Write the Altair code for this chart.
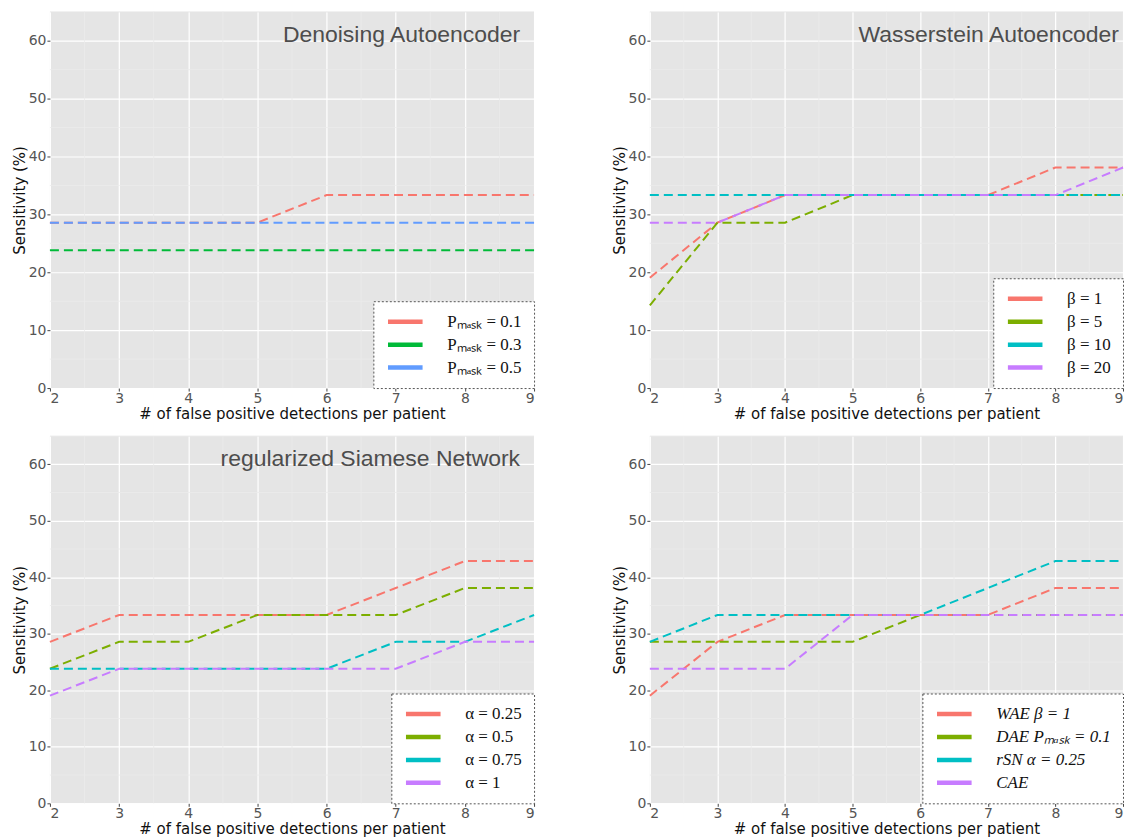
import altair as alt
import pandas as pd

# ---------------- data ----------------
X_VALUES = [2, 3, 4, 5, 6, 7, 8, 9]
Y_TICKS = [0, 10, 20, 30, 40, 50, 60]
MINOR_X = [2.5, 3.5, 4.5, 5.5, 6.5, 7.5, 8.5]
MINOR_Y = [5, 15, 25, 35, 45, 55, 65]

DAE_TITLE = "Denoising Autoencoder"
DAE_LABELS = ["Pₘₐₛₖ = 0.1", "Pₘₐₛₖ = 0.3", "Pₘₐₛₖ = 0.5"]
DAE_P01 = [28.57, 28.57, 28.57, 28.57, 33.33, 33.33, 33.33, 33.33]
DAE_P03 = [23.81, 23.81, 23.81, 23.81, 23.81, 23.81, 23.81, 23.81]
DAE_P05 = [28.57, 28.57, 28.57, 28.57, 28.57, 28.57, 28.57, 28.57]

WAE_TITLE = "Wasserstein Autoencoder"
WAE_LABELS = ["β = 1", "β = 5", "β = 10", "β = 20"]
WAE_B1 = [19.05, 28.57, 33.33, 33.33, 33.33, 33.33, 38.10, 38.10]
WAE_B5 = [14.29, 28.57, 28.57, 33.33, 33.33, 33.33, 33.33, 33.33]
WAE_B10 = [33.33, 33.33, 33.33, 33.33, 33.33, 33.33, 33.33, 33.33]
WAE_B20 = [28.57, 28.57, 33.33, 33.33, 33.33, 33.33, 33.33, 38.10]

RSN_TITLE = "regularized Siamese Network"
RSN_LABELS = ["α = 0.25", "α = 0.5", "α = 0.75", "α = 1"]
RSN_A025 = [28.57, 33.33, 33.33, 33.33, 33.33, 38.10, 42.86, 42.86]
RSN_A05 = [23.81, 28.57, 28.57, 33.33, 33.33, 33.33, 38.10, 38.10]
RSN_A075 = [23.81, 23.81, 23.81, 23.81, 23.81, 28.57, 28.57, 33.33]
RSN_A1 = [19.05, 23.81, 23.81, 23.81, 23.81, 23.81, 28.57, 28.57]

CMP_TITLE = ""
CMP_LABELS = ["WAE β = 1", "DAE Pₘₐₛₖ = 0.1", "rSN α = 0.25", "CAE"]
CMP_WAE = [19.05, 28.57, 33.33, 33.33, 33.33, 33.33, 38.10, 38.10]
CMP_DAE = [28.57, 28.57, 28.57, 28.57, 33.33, 33.33, 33.33, 33.33]
CMP_RSN = [28.57, 33.33, 33.33, 33.33, 33.33, 38.10, 42.86, 42.86]
CMP_CAE = [23.81, 23.81, 23.81, 33.33, 33.33, 33.33, 33.33, 33.33]

COLORS3 = ["#F8766D", "#00BA38", "#619CFF"]
COLORS4 = ["#F8766D", "#7CAE00", "#00BFC4", "#C77CFF"]

X_TITLE = "# of false positive detections per patient"
Y_TITLE = "Sensitivity (%)"


def panel(title, labels, series, colors, width, height, title_gap=14, label_style="normal"):
    rows = [
        {"x": xv, "y": yv, "s": lab, "o": i}
        for i, (lab, ys) in enumerate(zip(labels, series))
        for xv, yv in zip(X_VALUES, ys)
    ]
    df = pd.DataFrame(rows)
    xs = alt.Scale(domain=[2, 9], nice=False, zero=False)
    ys = alt.Scale(domain=[0, 65], nice=False)
    x_axis = alt.Axis(values=X_VALUES, title=X_TITLE, format="d",
                      labelFontSize=14, labelColor="#555555", labelPadding=0)
    y_axis = alt.Axis(values=Y_TICKS, title=Y_TITLE, format="d",
                      labelFontSize=14, labelColor="#555555", labelPadding=1)

    minor_x = alt.Chart(pd.DataFrame({"v": MINOR_X})).mark_rule(
        color="#EBEBEB", strokeWidth=0.8
    ).encode(x=alt.X("v:Q", scale=xs, axis=x_axis, title=X_TITLE))
    minor_y = alt.Chart(pd.DataFrame({"v": MINOR_Y})).mark_rule(
        color="#EBEBEB", strokeWidth=0.8
    ).encode(y=alt.Y("v:Q", scale=ys, axis=y_axis, title=Y_TITLE))

    lines = alt.Chart(df).mark_line(strokeDash=[9, 5], strokeWidth=2).encode(
        x=alt.X("x:Q", scale=xs, axis=x_axis, title=X_TITLE),
        y=alt.Y("y:Q", scale=ys, axis=y_axis, title=Y_TITLE),
        color=alt.Color(
            "s:N",
            scale=alt.Scale(domain=labels, range=colors),
            sort=labels,
            legend=alt.Legend(
                title=None,
                orient="bottom-right",
                offset=0,
                fillColor="white",
                padding=12,
                symbolType="stroke",
                symbolStrokeWidth=4.5,
                symbolSize=1200,
                symbolDash=[1, 0],
                labelFont="Liberation Serif",
                labelFontSize=17,
                labelFontStyle=label_style,
                labelColor="#111111",
                labelOffset=22,
                clipHeight=17,
                rowPadding=5,
                labelLimit=300,
            ),
        ),
        order=alt.Order("o:Q"),
    )

    layers = [minor_x, minor_y, lines]
    if title:
        txt = alt.Chart(pd.DataFrame({"t": [title]})).mark_text(
            align="right", baseline="top", fontSize=23,
            font="Liberation Sans", color="#4D4D4D"
        ).encode(x=alt.value(width - title_gap), y=alt.value(12), text="t:N")
        layers.append(txt)

    return alt.layer(*layers).properties(width=width, height=height)


p1 = panel(DAE_TITLE, DAE_LABELS, [DAE_P01, DAE_P03, DAE_P05], COLORS3, 485, 377)
p2 = panel(WAE_TITLE, WAE_LABELS, [WAE_B1, WAE_B5, WAE_B10, WAE_B20], COLORS4, 474, 377, 4)
p3 = panel(RSN_TITLE, RSN_LABELS, [RSN_A025, RSN_A05, RSN_A075, RSN_A1], COLORS4, 485, 368)
p4 = panel(CMP_TITLE, CMP_LABELS, [CMP_WAE, CMP_DAE, CMP_RSN, CMP_CAE], COLORS4, 474, 368,
           label_style="italic")

top = alt.hconcat(p1, p2, spacing=74).resolve_scale(color="independent")
bottom = alt.hconcat(p3, p4, spacing=74).resolve_scale(color="independent")

chart = alt.vconcat(top, bottom, spacing=14).resolve_scale(color="independent").properties(
    padding={"left": 4, "top": 2, "right": 0, "bottom": 0}
).configure_view(
    fill="#E5E5E5", stroke=None
).configure_legend(
    strokeColor="#555555",
    strokeDash=[2, 2],
    fillColor="white",
).configure_axis(
    domain=False,
    grid=True,
    gridColor="white",
    gridWidth=1.2,
    tickColor="#444444",
    tickSize=3,
    labelColor="#555555",
    labelFont="DejaVu Sans",
    labelFontSize=14,
    titleFont="DejaVu Sans",
    titleFontSize=15,
    titleFontWeight="normal",
    titleColor="#111111",
    titlePadding=1,
)

chart.save("out.html", embed_options={"renderer": "svg", "actions": False})
